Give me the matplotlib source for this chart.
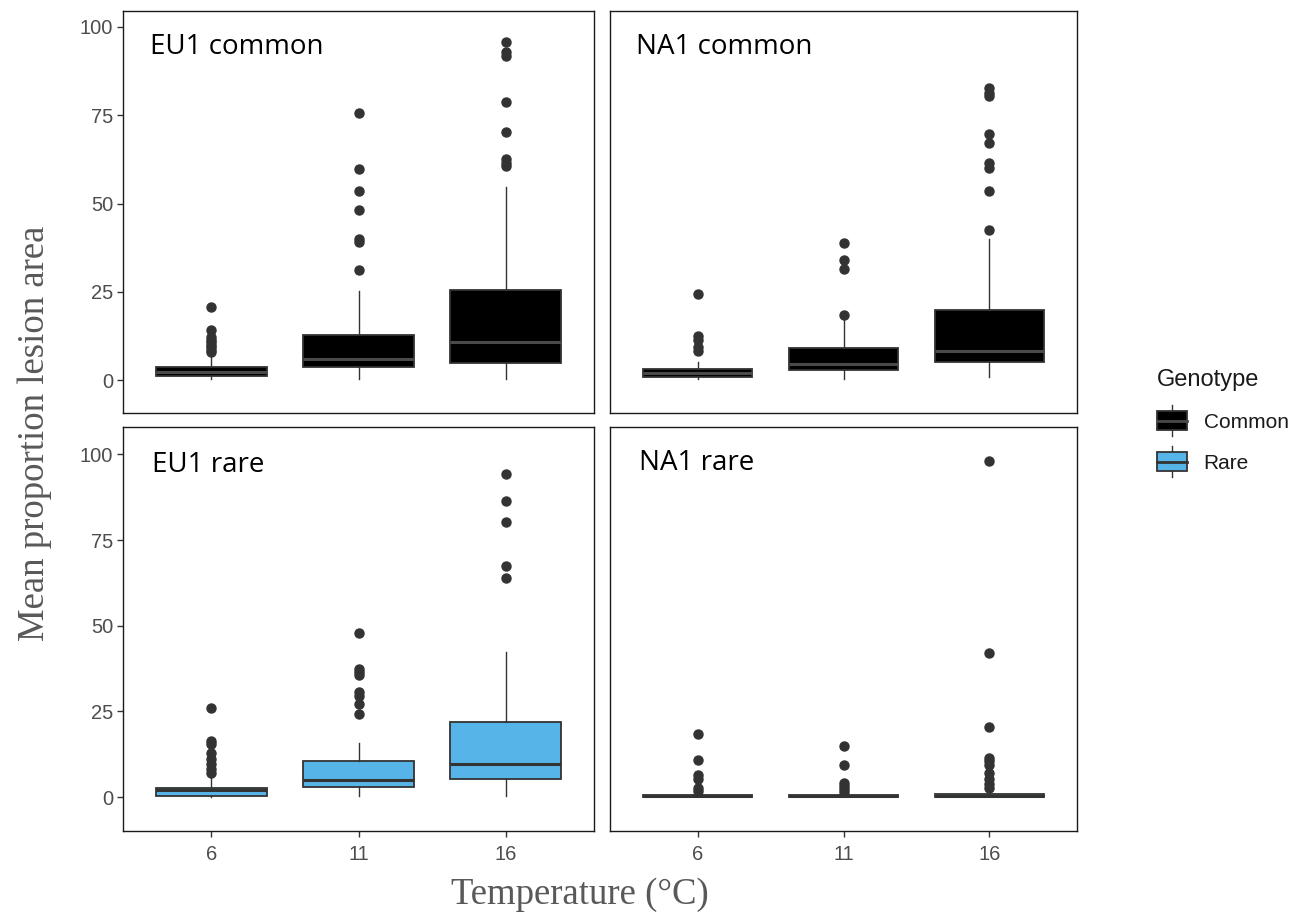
import matplotlib
matplotlib.use('Agg')
import matplotlib.pyplot as plt
from matplotlib.patches import Rectangle, Patch
from matplotlib.lines import Line2D
from matplotlib.legend_handler import HandlerBase


temps = ['6', '11', '16']
panels = ['EU1 common', 'NA1 common', 'EU1 rare', 'NA1 rare']
genotype = ['Common', 'Common', 'Rare', 'Rare']

# box summaries per panel, one value per temperature (6, 11, 16)
whislo = [[0.3, 0.3, 0.3], [0.3, 0.3, 0.8], [0.0, 0.3, 0.3], [0.0, 0.0, 0.0]]
q1 = [[1.1, 3.8, 4.9], [0.8, 2.8, 5.0], [0.3, 3.0, 5.2], [0.0, 0.0, 0.0]]
med = [[2.2, 5.9, 10.9], [1.9, 4.7, 8.3], [2.0, 5.0, 9.6], [0.2, 0.2, 0.4]]
q3 = [[3.7, 12.8, 25.6], [3.1, 9.2, 19.9], [2.7, 10.6, 22.0], [0.5, 0.5, 0.9]]
whishi = [[6.8, 25.1, 54.7], [5.2, 17.0, 40.0], [6.2, 15.9, 42.3], [0.6, 0.6, 1.2]]

fliers = [
    [[20.8, 14.2, 12.3, 11.5, 10.8, 10.0, 9.3, 8.6, 8.0],
     [75.6, 59.7, 53.6, 48.1, 40.0, 39.1, 31.1],
     [95.6, 92.8, 91.7, 78.6, 70.3, 62.7, 61.5, 60.6]],
    [[24.4, 12.5, 11.4, 9.5, 8.3],
     [38.8, 33.9, 31.4, 18.5],
     [82.8, 81.2, 80.5, 69.6, 67.0, 61.6, 60.1, 53.6, 42.4]],
    [[25.9, 16.4, 15.4, 13.0, 11.0, 9.6, 8.1, 7.1],
     [48.0, 37.4, 36.5, 35.5, 30.6, 29.6, 27.2, 24.2],
     [94.4, 86.5, 80.2, 67.5, 63.8]],
    [[18.4, 10.9, 6.5, 5.2, 2.7, 1.8],
     [14.8, 9.4, 4.2, 3.2, 2.3, 1.6],
     [98.0, 42.1, 20.5, 11.3, 10.4, 9.4, 7.0, 5.2, 3.8, 2.6]],
]

fills = {'Common': '#000000', 'Rare': '#56B4E9'}
medcols = {'Common': '#4a4a4a', 'Rare': '#333333'}
edge = '#333333'


class BoxKeyHandler(HandlerBase):
    def create_artists(self, legend, orig_handle, xdescent, ydescent,
                       width, height, fontsize, trans):
        fc = orig_handle.get_facecolor()
        x0, y0 = -xdescent, -ydescent
        bh = height * 1.05
        by = y0 + (height - bh) / 2
        rect = Rectangle((x0, by), width, bh, facecolor=fc,
                         edgecolor=edge, linewidth=1.3, transform=trans)
        mc = medcols['Common'] if fc[2] < 0.5 else edge
        mline = Line2D([x0, x0 + width], [y0 + height / 2] * 2,
                       color=mc, linewidth=2, transform=trans)
        wtop = Line2D([x0 + width / 2] * 2, [by + bh, by + bh + 0.33 * height],
                      color=edge, linewidth=1, transform=trans)
        wbot = Line2D([x0 + width / 2] * 2, [by, by - 0.33 * height],
                      color=edge, linewidth=1, transform=trans)
        return [wtop, wbot, rect, mline]


fig = plt.figure(figsize=(12.99, 9.19), dpi=100)

W, H = 1299, 919
boxes_px = [(123, 11, 594, 413), (610, 11, 1077, 413),
            (123, 427, 594, 831), (610, 427, 1077, 831)]
ylims = [(-9.3, 104.5), (-9.3, 104.5), (-9.9, 108), (-9.9, 108)]
label_pos = [(150, 47), (636, 47), (152, 465), (639, 463)]

for i, name in enumerate(panels):
    l, t, r, b = boxes_px[i]
    ax = fig.add_axes([l / W, 1 - b / H, (r - l) / W, (b - t) / H])
    g = genotype[i]
    stats = []
    for j in range(3):
        stats.append(dict(whislo=whislo[i][j], q1=q1[i][j], med=med[i][j],
                          q3=q3[i][j], whishi=whishi[i][j], fliers=fliers[i][j]))
    ax.bxp(stats, positions=[1, 2, 3], widths=0.75, patch_artist=True,
           showcaps=False,
           boxprops=dict(facecolor=fills[g], edgecolor=edge, linewidth=1.3),
           medianprops=dict(color=medcols[g], linewidth=2.2),
           whiskerprops=dict(color=edge, linewidth=1.0),
           flierprops=dict(marker='o', markerfacecolor=edge, markeredgecolor=edge,
                           markersize=6.5, linestyle='none'))
    ax.set_xlim(0.4, 3.6)
    ax.set_ylim(*ylims[i])
    ax.set_yticks([0, 25, 50, 75, 100])
    ax.set_xticks([1, 2, 3])
    ax.set_xticklabels(temps)
    for s in ax.spines.values():
        s.set_color('#1a1a1a')
        s.set_linewidth(1.0)
    ax.tick_params(length=4, width=1, color='#333333', labelcolor='#4D4D4D',
                   labelsize=14.5, pad=3)
    ax.tick_params(axis='y', labelfontfamily='Liberation Sans')
    ax.tick_params(axis='x', labelfontfamily='Liberation Sans', pad=6)
    if i % 2 == 1:
        ax.tick_params(axis='y', left=False, labelleft=False)
    if i < 2:
        ax.tick_params(axis='x', bottom=False, labelbottom=False)
    lx, ly = label_pos[i]
    ax.text((lx - l) / (r - l), 1 - (ly - t) / (b - t), name,
            transform=ax.transAxes, ha='left', va='center',
            fontsize=20, family='Open Sans', color='black')

fig.text(580 / W, 1 - 895 / H, 'Temperature (°C)', ha='center',
         va='center', fontsize=26.5, family='Liberation Serif', color='#595959')
fig.text(35 / W, 1 - 433 / H, 'Mean proportion lesion area', ha='center',
         va='center', rotation=90, fontsize=26.5, family='Liberation Serif',
         color='#595959')

handles = [Patch(facecolor=fills['Common']), Patch(facecolor=fills['Rare'])]
leg = fig.legend(handles, ['Common', 'Rare'], title='Genotype',
                 loc='upper left', bbox_to_anchor=(1138 / W, 1 - 350 / H),
                 frameon=False, handler_map={Patch: BoxKeyHandler()},
                 prop={'family': 'Liberation Sans', 'size': 15},
                 handlelength=1.45, handleheight=0.95, labelspacing=1.0,
                 handletextpad=0.8)
leg.get_title().set_fontfamily('Liberation Sans')
leg.get_title().set_fontsize(17)
leg.get_title().set_color('#1a1a1a')
leg._legend_box.align = 'left'
for t in leg.get_texts():
    t.set_color('#1a1a1a')

fig.savefig('out.png', dpi=100)
